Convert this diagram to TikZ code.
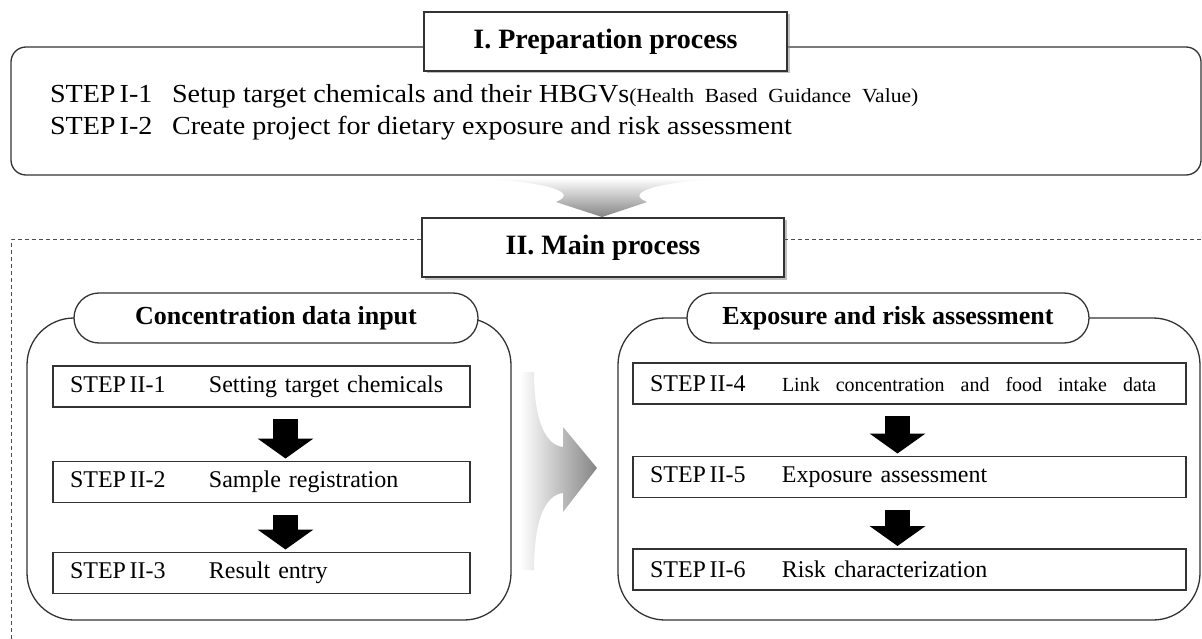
\documentclass[tikz,border=0pt]{standalone}
\usepackage{fontspec}
\setmainfont{Liberation Serif}
\usetikzlibrary{shadows,arrows.meta,shapes.misc,calc}
\newcommand{\stp}[1]{STEP\hspace{0.15em}#1}
\begin{document}
\begin{tikzpicture}[x=1pt,y=-1pt,
  every node/.style={inner sep=0pt, outer sep=0pt},
  lin/.style={draw=black!80, line width=1.3pt},
  titlebox/.style={lin, fill=white, minimum height=59pt,
    drop shadow={shadow xshift=2.5pt, shadow yshift=-2.5pt, fill=black!50},
    font=\fontsize{28}{32}\selectfont\bfseries},
  pill/.style={lin, fill=white, rounded rectangle, minimum height=50pt,
    font=\fontsize{26}{30}\selectfont\bfseries},
  group/.style={lin, rounded corners=47pt},
  stepbox/.style={lin, fill=white, minimum height=41pt, align=left,
    inner xsep=17pt, font=\fontsize{24}{28}\selectfont},
  toptext/.style={anchor=base west, font=\fontsize{26}{30}\selectfont},
  blockarrow/.style={draw=black, line width=25pt,
    -{Triangle[width=55pt,length=20pt]}, shorten <=12pt, shorten >=3pt},
]
\useasboundingbox (0,0) rectangle (1202,639);
\fill[white] (0,0) rectangle (1202,639);

% ---------- I. Preparation process ----------
\node[lin, rounded corners=15pt, minimum width=1190pt, minimum height=128pt] (prep) at (606,111) {};
\node[titlebox, minimum width=363pt] (t1) at (605.5,41.5) {I. Preparation process};
\node[toptext] (i1) at (50,103) {\scalebox{1.08}[1]{\makebox[113pt][l]{\stp{I-1}}Setup target chemicals and their HBGVs{\fontsize{20}{22}\selectfont(Health\ \ Based\ \ Guidance\ \ Value)}}};
\node[toptext] (i2) at (50,135) {\scalebox{1.08}[1]{\makebox[113pt][l]{\stp{I-2}}Create project for dietary exposure and risk assessment}};

% ---------- gray arrow down ----------
\shade[top color=white, bottom color=black!48]
  (468,178) -- (735,178) .. controls (660,181) and (622,192) .. (647,202)
  -- (602,217) -- (556,202) .. controls (581,192) and (545,181) .. (468,178) -- cycle;

% ---------- II. Main process ----------
\node[titlebox, minimum width=362pt] (t2) at (603,247.5) {II. Main process};
\draw[draw=black!70, line width=1pt, dash pattern=on 4pt off 3pt]
  (11,639) -- (11,240) -- (t2.west |- 0,240);
\draw[draw=black!70, line width=1pt, dash pattern=on 4pt off 3pt]
  (t2.east |- 0,240) -- (1202,240);

% ---------- left group ----------
\draw[group] (27,318) rectangle (511,620);
\node[pill, minimum width=404pt] (cdi) at (276,318) {Concentration data input};
\node[stepbox, minimum width=417pt, text width=383pt] (s1) at (261.5,386.5)
  {\makebox[139pt][l]{\stp{II-1}}Setting target chemicals};
\node[stepbox, minimum width=417pt, text width=383pt] (s2) at (261.5,482)
  {\makebox[139pt][l]{\stp{II-2}}Sample registration};
\node[stepbox, minimum width=417pt, text width=383pt] (s3) at (261.5,573)
  {\makebox[139pt][l]{\stp{II-3}}Result entry};
\draw[blockarrow] ([xshift=24pt]s1.south) -- ([xshift=24pt]s2.north);
\draw[blockarrow] ([xshift=24pt]s2.south) -- ([xshift=24pt]s3.north);

% ---------- gray arrow right ----------
\shade[left color=white, right color=black!48]
  (520,372) -- (534,372) .. controls (534,420) and (545,445) .. (563,447)
  -- (563,427) -- (597,468) -- (563,512) -- (563,493)
  .. controls (545,495) and (534,520) .. (534,570) -- (520,570) -- cycle;

% ---------- right group ----------
\draw[group] (618,318) rectangle (1200,620);
\node[pill, minimum width=402pt] (era) at (888,318) {Exposure and risk assessment};
\node[stepbox, minimum width=553pt, text width=519pt] (s4) at (909.5,383.5)
  {\makebox[132pt][l]{\stp{II-4}}{\fontsize{20}{24}\selectfont Link\ \ concentration\ \ and\ \ food\ \ intake\ \ data}};
\node[stepbox, minimum width=553pt, text width=519pt] (s5) at (909.5,477)
  {\makebox[132pt][l]{\stp{II-5}}Exposure assessment};
\node[stepbox, minimum width=553pt, text width=519pt] (s6) at (909.5,569.5)
  {\makebox[132pt][l]{\stp{II-6}}Risk characterization};
\draw[blockarrow] ([xshift=-12pt]s4.south) -- ([xshift=-12pt]s5.north);
\draw[blockarrow] ([xshift=-12pt]s5.south) -- ([xshift=-12pt]s6.north);
\end{tikzpicture}
\end{document}
